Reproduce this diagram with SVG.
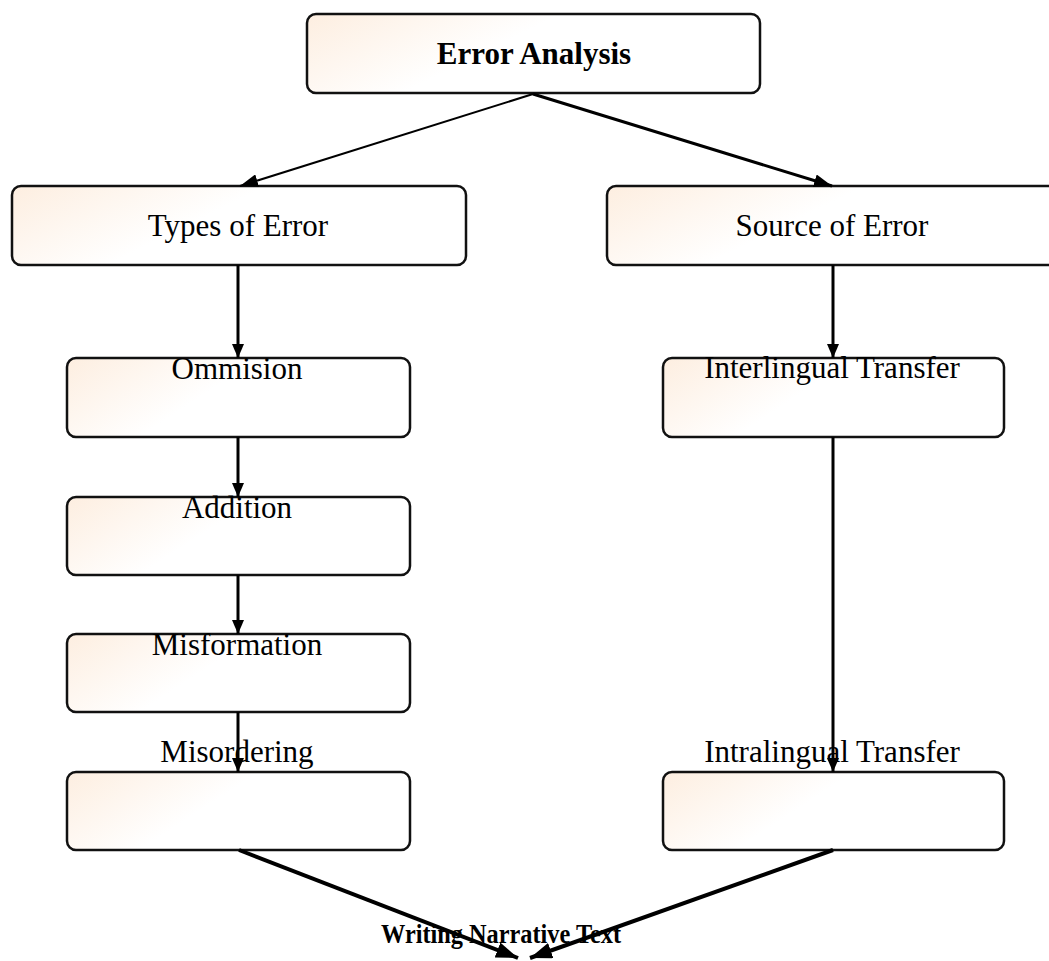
<svg xmlns="http://www.w3.org/2000/svg" width="1049" height="961" viewBox="0 0 1049 961">
<defs>
  <linearGradient id="fill" x1="0" y1="0" x2="1" y2="0.35">
    <stop offset="0" stop-color="#fdeee0"/>
    <stop offset="0.5" stop-color="#ffffff"/>
    <stop offset="1" stop-color="#ffffff"/>
  </linearGradient>
  <marker id="arr" viewBox="0 0 14 12" refX="14" refY="6" markerWidth="14" markerHeight="12" markerUnits="userSpaceOnUse" orient="auto">
    <path d="M0,0 L14,6 L0,12 z" fill="#000"/>
  </marker>
  <marker id="arrB" viewBox="0 0 18 13" refX="18" refY="6.5" markerWidth="18" markerHeight="13" markerUnits="userSpaceOnUse" orient="auto">
    <path d="M0,0 L18,6.5 L0,13 z" fill="#000"/>
  </marker>
  <marker id="arrL" viewBox="0 0 22 16" refX="22" refY="8" markerWidth="22" markerHeight="16" markerUnits="userSpaceOnUse" orient="auto">
    <path d="M0,0 L22,8 L0,16 z" fill="#000"/>
  </marker>
</defs>
<style>
  .box { fill: url(#fill); stroke: #111; stroke-width: 2.5; }
  .lbl { font-family: "Liberation Serif", "Times New Roman", serif; font-size: 31px; fill: #000; text-anchor: middle; }
  .bold { font-weight: bold; }
  .mid { font-size: 28px; }
  .c { stroke: #000; stroke-width: 3; fill: none; }
  .thick { stroke-width: 4; }
  .thin { stroke-width: 2; }
</style>
<rect width="1049" height="961" fill="#fff"/>

<g id="error-analysis">
  <rect class="box" x="307" y="14" width="453" height="79" rx="9"/>
  <text class="lbl bold" x="534" y="64">Error Analysis</text>
</g>
<g id="types-of-error">
  <rect class="box" x="12" y="186" width="454" height="79" rx="9"/>
  <text class="lbl" x="238" y="236">Types of Error</text>
</g>
<g id="source-of-error">
  <rect class="box" x="607" y="186" width="460" height="79" rx="9"/>
  <text class="lbl" x="832" y="236">Source of Error</text>
</g>
<g id="ommision">
  <rect class="box" x="67" y="358" width="343" height="79" rx="9"/>
  <text class="lbl" x="237" y="379">Ommision</text>
</g>
<g id="addition">
  <rect class="box" x="67" y="497" width="343" height="78" rx="9"/>
  <text class="lbl" x="237" y="518">Addition</text>
</g>
<g id="misformation">
  <rect class="box" x="67" y="634" width="343" height="78" rx="9"/>
  <text class="lbl" x="237" y="655">Misformation</text>
</g>
<g id="misordering">
  <rect class="box" x="67" y="772" width="343" height="78" rx="9"/>
  <text class="lbl" x="237" y="762">Misordering</text>
</g>
<g id="interlingual">
  <rect class="box" x="663" y="358" width="341" height="79" rx="9"/>
  <text class="lbl" x="832" y="378">Interlingual Transfer</text>
</g>
<g id="intralingual">
  <rect class="box" x="663" y="772" width="341" height="78" rx="9"/>
  <text class="lbl" x="832" y="762">Intralingual Transfer</text>
</g>
<g id="writing-narrative-text">
  <text class="lbl bold mid" x="501" y="943" textLength="240" lengthAdjust="spacingAndGlyphs">Writing Narrative Text</text>
</g>

<g id="connectors">
  <line class="c thin" x1="533" y1="94" x2="240" y2="186" marker-end="url(#arrB)"/>
  <line class="c" x1="533" y1="94" x2="832" y2="186" marker-end="url(#arrB)"/>
  <line class="c" x1="238" y1="265" x2="238" y2="358" marker-end="url(#arr)"/>
  <line class="c" x1="238" y1="437" x2="238" y2="497" marker-end="url(#arr)"/>
  <line class="c" x1="238" y1="575" x2="238" y2="634" marker-end="url(#arr)"/>
  <line class="c" x1="238" y1="712" x2="238" y2="772" marker-end="url(#arr)"/>
  <line class="c" x1="833" y1="265" x2="833" y2="358" marker-end="url(#arr)"/>
  <line class="c" x1="833" y1="437" x2="833" y2="772" marker-end="url(#arr)"/>
  <line class="c thick" x1="239" y1="850" x2="518" y2="958" marker-end="url(#arrL)"/>
  <line class="c thick" x1="833" y1="850" x2="530" y2="958" marker-end="url(#arrL)"/>
</g>
</svg>
